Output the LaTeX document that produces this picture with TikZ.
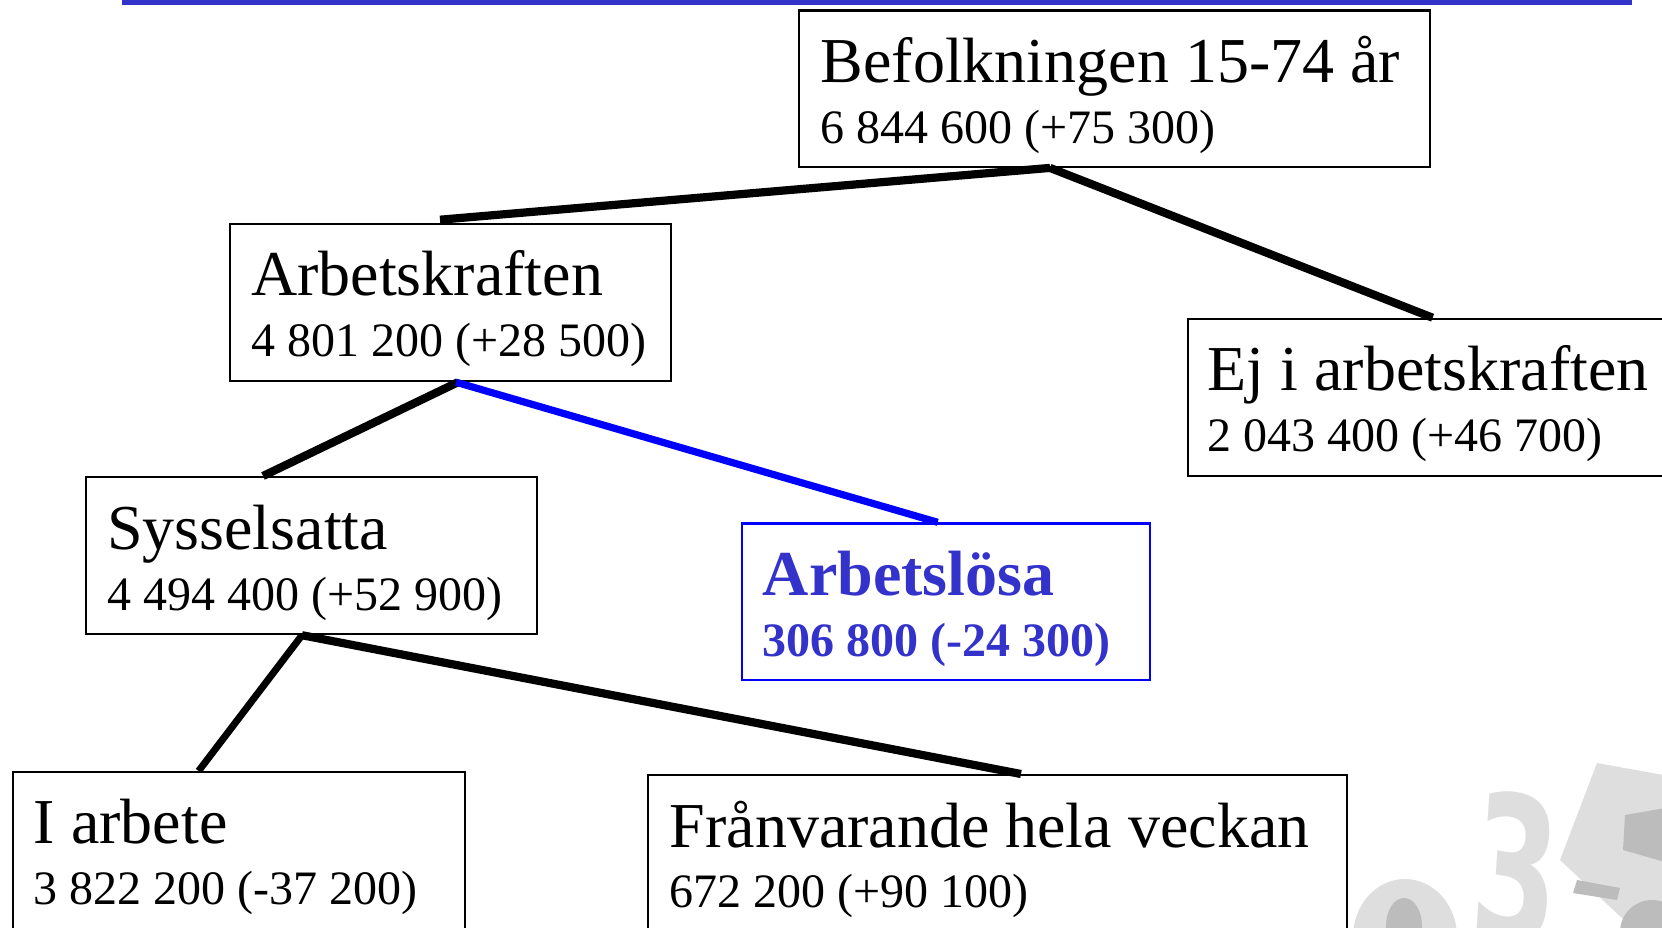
\documentclass[tikz,border=0pt]{standalone}
\usepackage{fontspec}
\setmainfont{Liberation Serif}
\newfontfamily\wmfont{DejaVu Sans}
\usetikzlibrary{calc}
\definecolor{barblue}{RGB}{51,51,204}
\definecolor{linkblue}{RGB}{0,0,255}
\definecolor{wmlight}{RGB}{222,222,222}
\definecolor{wmdark}{RGB}{188,188,188}
\tikzset{
  box/.style={draw=black, line width=2.2pt, fill=white, anchor=north west, inner sep=0pt},
  bluebox/.style={box, draw=linkblue},
  ttl/.style={anchor=base west, inner sep=0pt, font=\fontsize{64}{64}\selectfont},
  num/.style={anchor=base west, inner sep=0pt, font=\fontsize{48}{48}\selectfont},
  bttl/.style={ttl, text=barblue, font=\fontsize{64}{64}\selectfont\bfseries},
  bnum/.style={num, text=barblue, font=\fontsize{48}{48}\selectfont\bfseries},
  link/.style={line width=8.2pt, draw=black},
  thinlink/.style={line width=7pt, draw=black},
  bluelink/.style={line width=7.2pt, draw=linkblue},
  wm/.style={fill=wmlight, draw=none},
  wmd/.style={fill=wmdark, draw=none}
}
\begin{document}
\begin{tikzpicture}[x=1pt,y=-1pt]
\useasboundingbox (0,0) rectangle (1662,927);
% top bar
\fill[barblue] (122,0) rectangle (1632,5);
% watermark fragments
\fill[wm] (1597,763) -- (1680,778) -- (1680,935) -- (1640,935) -- (1560,860) -- cycle;
\node[text=wmlight, font=\wmfont\bfseries\fontsize{200}{200}\selectfont, xscale=0.62, rotate=-6, inner sep=0pt] (three) at (1516,868) {3};
\fill[wmd] (1625,815) -- (1665,808) -- (1665,862) -- (1623,850) -- cycle;
\fill[wmd] (1577,880) -- (1620,888) -- (1617,900) -- (1573,893) -- cycle;
\fill[wmd] (1652,932) circle (32);
\fill[wm] (1405,937) ellipse (52 and 58);
\fill[wmd] (1404,926) ellipse (18 and 28);
% boxes
\node[box, minimum width=630.5pt, minimum height=156.4pt] (bef) at (798,9.3) {};
\node[box, minimum width=440.6pt, minimum height=157.3pt] (arb) at (229,222.7) {};
\node[box, minimum width=600pt, minimum height=157.3pt] (ej) at (1186.6,317.7) {};
\node[box, minimum width=450.7pt, minimum height=157pt] (syss) at (85,476) {};
\node[bluebox, minimum width=408.3pt, minimum height=156.7pt] (arbl) at (740.7,522.3) {};
\node[box, minimum width=452.4pt, minimum height=250pt] (iarb) at (11.6,771) {};
\node[box, minimum width=698.5pt, minimum height=250pt] (fran) at (647,774) {};
% connectors
\draw[link] ($(bef.south west)+(252,0)$) -- ($(arb.north west)+(211,-3)$);
\draw[link] ($(bef.south west)+(252,0)$) -- ($(ej.north west)+(246,0)$);
\draw[link] ($(arb.south west)+(229,0)$) -- ($(syss.north west)+(178,0)$);
\draw[bluelink] ($(arb.south west)+(227,0)$) -- ($(arbl.north west)+(197,0)$);
\draw[thinlink] ($(syss.south west)+(217,0)$) -- ($(iarb.north west)+(187,0)$);
\draw[link] ($(syss.south west)+(217,0)$) -- ($(fran.north west)+(374,0)$);
% texts
\node[ttl] (befT) at ($(bef.north west)+(22.5,73)$) {Befolkningen 15-74 år};
\node[num] (befN) at ($(bef.north west)+(22.5,134)$) {6 844 600 (+75 300)};
\node[ttl] (arbT) at ($(arb.north west)+(22,73)$) {Arbetskraften};
\node[num] (arbN) at ($(arb.north west)+(22,134)$) {4 801 200 (+28 500)};
\node[ttl] (ejT) at ($(ej.north west)+(21,73)$) {Ej i arbetskraften};
\node[num] (ejN) at ($(ej.north west)+(21,134)$) {2 043 400 (+46 700)};
\node[ttl] (syssT) at ($(syss.north west)+(22,73)$) {Sysselsatta};
\node[num] (syssN) at ($(syss.north west)+(22,134)$) {4 494 400 (+52 900)};
\node[bttl] (arblT) at ($(arbl.north west)+(22,73)$) {Arbetslösa};
\node[bnum] (arblN) at ($(arbl.north west)+(22,134)$) {306 800 (-24 300)};
\node[ttl] (iarbT) at ($(iarb.north west)+(22,72)$) {I arbete};
\node[num] (iarbN) at ($(iarb.north west)+(22,133)$) {3 822 200 (-37 200)};
\node[ttl] (franT) at ($(fran.north west)+(22.5,73)$) {Frånvarande hela veckan};
\node[num] (franN) at ($(fran.north west)+(22.5,133)$) {672 200 (+90 100)};
\end{tikzpicture}
\end{document}
